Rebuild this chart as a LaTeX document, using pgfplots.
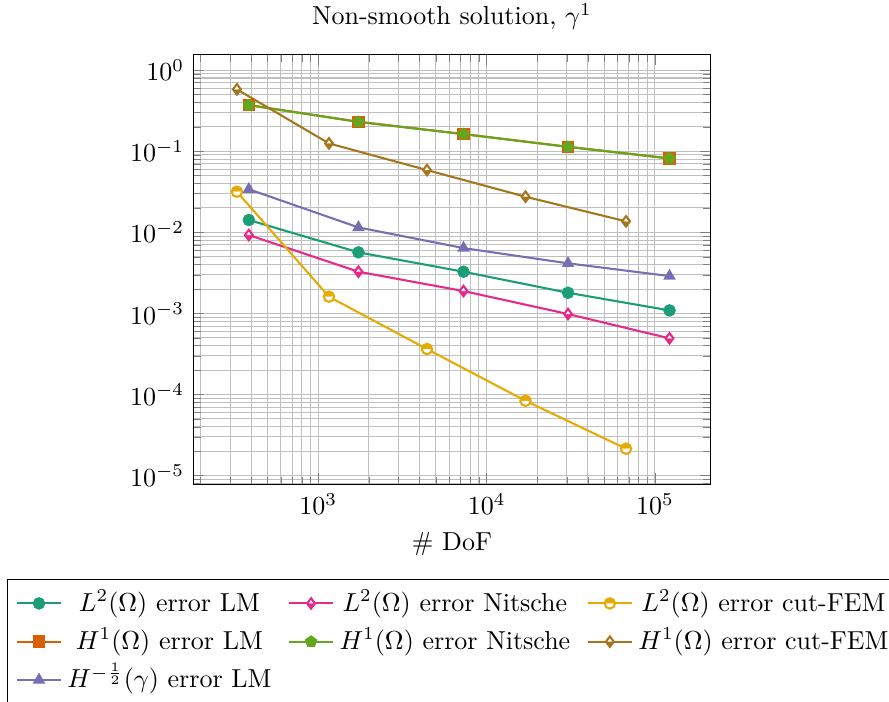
\documentclass[border=0pt]{standalone}
\usepackage{pgfplots}
\pgfplotsset{compat=1.18}
\usetikzlibrary{plotmarks}
\definecolor{dteal}{HTML}{1B9E77}
\definecolor{dorange}{HTML}{D95F02}
\definecolor{dpurple}{HTML}{7570B3}
\definecolor{dpink}{HTML}{E7298A}
\definecolor{dgreen}{HTML}{66A61E}
\definecolor{dyellow}{HTML}{E6AB02}
\definecolor{dbrown}{HTML}{A6761D}
\begin{document}
\begin{tikzpicture}
\begin{axis}[
  at={(0,0)}, anchor=south west,
  scale only axis,
  width=199pt, height=165.4pt,
  xmode=log, ymode=log,
  xmin=180.8, xmax=214300,
  ymin=7.8e-6, ymax=1.567,
  grid=both,
  title={Non-smooth solution, $\gamma^1$},
  xlabel={\# DoF},
  legend columns=3,
  legend cell align=center,
  legend style={at={(-0.359,-0.219)}, anchor=north west, draw=black,
    /tikz/every even column/.append style={column sep=4.3pt},
    nodes={text height=8.3pt, text depth=2.4pt}},
  every axis plot/.append style={thick},
]
\addplot[color=dteal, mark=*] coordinates {(387,0.0142) (1733,0.00567) (7292,0.00327) (30460,0.0018) (122100,0.00109)};
\addlegendentry{$L^2(\Omega)$ error LM}
\addplot[color=dpink, mark=halfdiamond*, mark options={fill=dpink}] coordinates {(387,0.00927) (1733,0.00327) (7292,0.00189) (30460,0.000984) (122100,0.000493)};
\addlegendentry{$L^2(\Omega)$ error Nitsche}
\addplot[color=dyellow, mark=halfcircle*, mark options={fill=dyellow}] coordinates {(328.6,0.0317) (1158,0.00161) (4424,0.000364) (17030,8.38e-5) (67340,2.15e-5)};
\addlegendentry{$L^2(\Omega)$ error cut-FEM}
\addplot[color=dorange, mark=square*] coordinates {(387,0.371) (1733,0.231) (7292,0.163) (30460,0.1135) (122100,0.0817)};
\addlegendentry{$H^1(\Omega)$ error LM}
\addplot[color=dgreen, mark=pentagon*] coordinates {(387,0.370) (1733,0.230) (7292,0.1625) (30460,0.1132) (122100,0.0815)};
\addlegendentry{$H^1(\Omega)$ error Nitsche}
\addplot[color=dbrown, mark=halfdiamond*, mark options={fill=dbrown}] coordinates {(328.6,0.58) (1158,0.125) (4424,0.0586) (17030,0.0275) (67340,0.01367)};
\addlegendentry{$H^1(\Omega)$ error cut-FEM}
\addplot[color=dpurple, mark=triangle*] coordinates {(387,0.034) (1733,0.0115) (7292,0.0064) (30460,0.00415) (122100,0.00289)};
\addlegendentry{$H^{-\frac{1}{2}}(\gamma)$ error LM}
\end{axis}
\pgfresetboundingbox
\useasboundingbox (-74.3pt,-83.3pt) rectangle (267.6pt,186.3pt);
\end{tikzpicture}
\end{document}
